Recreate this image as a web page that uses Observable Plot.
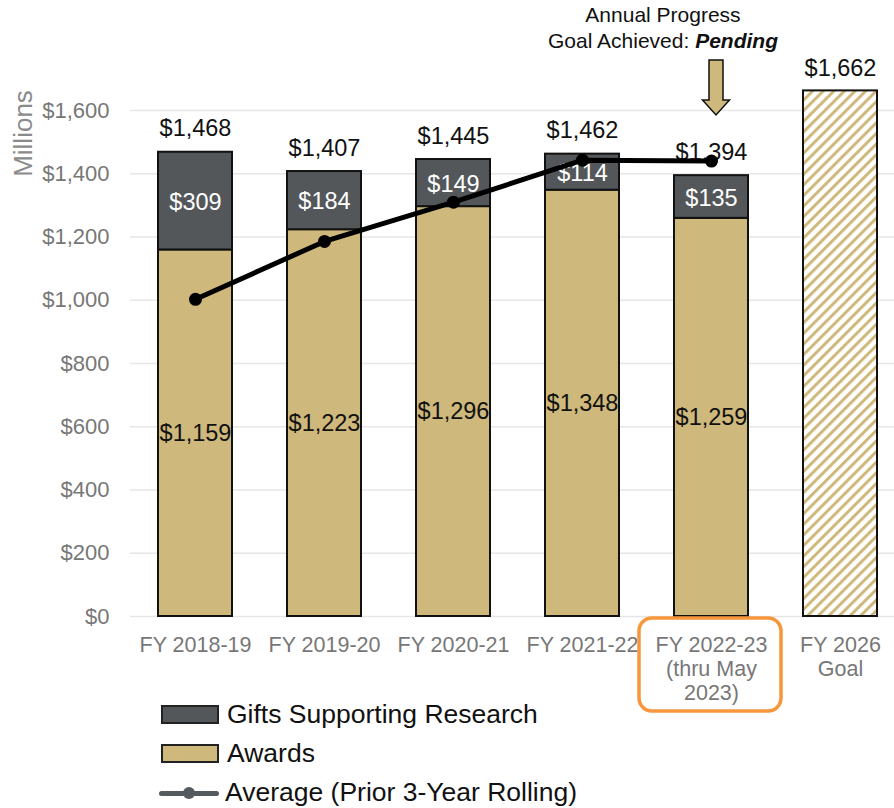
<!DOCTYPE html>
<html><head><meta charset="utf-8">
<script src="https://cdn.jsdelivr.net/npm/d3@7"></script>
<script src="https://cdn.jsdelivr.net/npm/@observablehq/plot@0.6"></script>
<style>
body{margin:0;background:#fff;font-family:"Liberation Sans",Arial,sans-serif;}
#wrap{position:relative;width:894px;height:808px;overflow:hidden;}
#legend{position:absolute;left:0;top:695px;}
.row{display:flex;align-items:center;height:39px;font-size:26.5px;color:#111;}
.sw{width:54px;height:15px;border:2px solid #222;margin-left:161px;margin-right:8px;}
.ln{position:relative;width:60px;height:20px;margin-left:159px;margin-right:6px;}
.ln:before{content:"";position:absolute;left:0;right:0;top:8px;height:5px;background:#555a5e;border-radius:3px;}
.ln:after{content:"";position:absolute;left:24px;top:4px;width:12px;height:12px;border-radius:6px;background:#555a5e;}
</style></head><body><div id="wrap"></div>
<script>
const categories = ["FY 2018-19", "FY 2019-20", "FY 2020-21", "FY 2021-22", "FY 2022-23\n(thru May\n2023)", "FY 2026\nGoal"];
const awards = [1159, 1223, 1296, 1348, 1259];
const gifts = [309, 184, 149, 114, 135];
const totals = [1468, 1407, 1445, 1462, 1394];
const average = [1003, 1186, 1310, 1443, 1440];
const goal = 1662;
const yTicks = [0, 200, 400, 600, 800, 1000, 1200, 1400, 1600];

const TAN = "#cfb87c", GRAY = "#53575a";
const fmt = d => "$" + d3.format(",")(d);
const rows = categories.slice(0, 5).map((c, i) => ({cat: c, awards: awards[i], gifts: gifts[i], total: totals[i], avg: average[i]}));
const goalRow = [{cat: categories[5], total: goal}];

const plot = Plot.plot({
  width: 894, height: 700,
  marginTop: 110, marginBottom: 84, marginLeft: 130, marginRight: 0,
  style: {fontFamily: "Liberation Sans, Arial, sans-serif", overflow: "visible", background: "transparent"},
  x: {domain: categories, paddingInner: 0.4272, paddingOuter: 0.1703, align: 0.614, label: null},
  y: {domain: [0, 1600], label: null},
  marks: [
    Plot.gridY({ticks: yTicks, stroke: "#e6e6e6", strokeOpacity: 1, strokeWidth: 1.5}),
    Plot.axisY({ticks: yTicks, tickFormat: fmt, tickSize: 0, tickPadding: 21, fontSize: 22, fill: "#777", label: null}),
    Plot.axisX({tickSize: 0, tickPadding: 19, fontSize: 21.5, fill: "#777", lineHeight: 1.1, label: null}),
    Plot.text(["Millions"], {frameAnchor: "top-left", rotate: -90, dx: -107, dy: 23, fontSize: 26, fill: "#8a8a8a", textAnchor: "middle", lineAnchor: "middle"}),
    Plot.barY(rows, {x: "cat", y1: 0, y2: "awards", fill: TAN, stroke: "#111", strokeWidth: 2}),
    Plot.barY(rows, {x: "cat", y1: "awards", y2: "total", fill: GRAY, stroke: "#111", strokeWidth: 2}),
    Plot.barY(goalRow, {x: "cat", y: "total", fill: "url(#hatch)", stroke: "#111", strokeWidth: 2}),
    Plot.text(rows, {x: "cat", y: d => d.awards / 2, text: d => fmt(d.awards), fontSize: 23.5, fill: "#111", lineAnchor: "middle"}),
    Plot.text(rows, {x: "cat", y: d => d.awards + d.gifts / 2, text: d => fmt(d.gifts), fontSize: 23.5, fill: "#fff", lineAnchor: "middle", dy: 1}),
    Plot.text(rows, {x: "cat", y: "total", text: d => fmt(d.total), fontSize: 23.5, fill: "#111", lineAnchor: "bottom", dy: -16}),
    Plot.text(goalRow, {x: "cat", y: "total", text: d => fmt(d.total), fontSize: 23.5, fill: "#111", lineAnchor: "bottom", dy: -15}),
    Plot.line(rows, {x: "cat", y: "avg", stroke: "#000", strokeWidth: 5}),
    Plot.dot(rows, {x: "cat", y: "avg", r: 6.5, fill: "#000"})
  ]
});

const svg = d3.select(plot);
const defs = svg.insert("defs", ":first-child");
const pat = defs.append("pattern").attr("id", "hatch").attr("patternUnits", "userSpaceOnUse")
  .attr("width", 7.5).attr("height", 7.5).attr("patternTransform", "rotate(45)");
pat.append("rect").attr("width", 7.5).attr("height", 7.5).attr("fill", "#fff");
pat.append("rect").attr("width", 3).attr("height", 7.5).attr("fill", TAN);

const xs = plot.scale("x");
const cx = xs.apply(categories[4]) + xs.bandwidth / 2;
// orange highlight round the label
svg.append("rect").attr("x", cx - 72).attr("y", 618).attr("width", 142).attr("height", 93)
  .attr("rx", 13).attr("fill", "none").attr("stroke", "#f7963a").attr("stroke-width", 3.5);
// down arrow
const ax = cx + 5;
svg.append("path").attr("d", `M${ax-7},60 L${ax+7},60 L${ax+7},100 L${ax+13.5},100 L${ax},115 L${ax-13.5},100 L${ax-7},100 Z`)
  .attr("fill", TAN).attr("stroke", "#111").attr("stroke-width", 1.5);
// annotation
const t = svg.append("text").attr("text-anchor", "middle").attr("font-size", 21).attr("fill", "#111")
  .attr("font-family", "Liberation Sans, Arial, sans-serif");
t.append("tspan").attr("x", cx - 48).attr("y", 22).text("Annual Progress");
const t2 = t.append("tspan").attr("x", cx - 48).attr("y", 48);
t2.append("tspan").text("Goal Achieved: ");
t2.append("tspan").attr("font-weight", "bold").attr("font-style", "italic").text("Pending");

const wrap = document.getElementById("wrap");
wrap.appendChild(plot);
const legend = document.createElement("div");
legend.id = "legend";
legend.innerHTML = `
<div class="row"><span class="sw" style="background:${GRAY}"></span>Gifts Supporting Research</div>
<div class="row"><span class="sw" style="background:${TAN}"></span>Awards</div>
<div class="row"><span class="ln"></span>Average (Prior 3-Year Rolling)</div>`;
wrap.appendChild(legend);
</script>
</body></html>
